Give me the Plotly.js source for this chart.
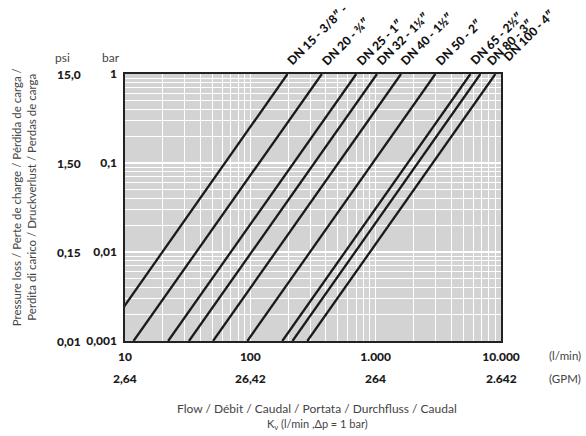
<!DOCTYPE html>
<html>
<head>
<meta charset="utf-8">
<script src="https://cdn.plot.ly/plotly-3.0.1.min.js"></script>
<style>html,body{margin:0;padding:0;background:#fff;}#chart{width:586px;height:436px;}</style>
</head>
<body>
<div id="chart"></div>
<script>
// ---- data ----
const lineNames = ["DN 15 - 3/8″ -", "DN 20 - ¾″", "DN 25 - 1″", "DN 32 - 1¼″", "DN 40 - 1½″", "DN 50 - 2″", "DN 65 - 2½″", "DN 80 - 3″", "DN 100 - 4″"];
// flow (l/min) where each line meets 1 bar (top of chart)
const flowAt1bar = [198, 372, 700, 1024, 1593, 2993, 5700, 6850, 9020];
// flow (l/min) where each line meets 0.001 bar (bottom of chart)
const flowAt0001bar = [6.3, 11.7, 22.1, 32.4, 50.4, 94.7, 180, 217, 285];
const pressureEnds = [0.001, 1];

const flowTicks = [10, 100, 1000, 10000];
const flowTickText = ["10", "100", "1.000", "10.000"];
const gpmTickText = ["2,64", "26,42", "264", "2.642"];
const barTicks = [0.001, 0.01, 0.1, 1];
const barTickText = ["0,001", "0,01", "0,1", "1"];
const psiTickText = ["0,01", "0,15", "1,50", "15,0"];

// ---- chart ----
const FAM = "Lato, 'Open Sans', sans-serif";
const boldFont = {family: FAM, size: 12, color: "#1a1a1a", weight: 900};
const lightFont = {family: FAM, size: 12, color: "#444", weight: 400};

const traces = lineNames.map((n, i) => ({
  type: "scatter", mode: "lines", name: n,
  x: [flowAt0001bar[i], flowAt1bar[i]],
  y: pressureEnds,
  line: {color: "#1a1a1a", width: 2.3},
  hoverinfo: "skip", showlegend: false
}));

// label placement tweaks (pixels) for the crowded labels at the right
const labelDx = [0, 0, 0, 0, 0, 0, 0, 6, 8];
const labelLift = [0, 0, 0, 0, 0, 0, 0, 0, 4];
const annotations = [];
lineNames.forEach((n, i) => {
  annotations.push({
    text: n, xref: "x", yref: "paper",
    x: Math.log10(flowAt1bar[i]), y: 1,
    xanchor: "left", yanchor: "bottom", textangle: -45,
    xshift: -6 + labelDx[i], yshift: 3 + labelLift[i],
    showarrow: false, font: {family: FAM, size: 12, color: "#111", weight: 900}
  });
});
flowTicks.forEach((v, i) => {
  annotations.push({
    text: gpmTickText[i], xref: "x", yref: "paper",
    x: Math.log10(v), y: -0.139, xanchor: "center", yanchor: "middle",
    showarrow: false, font: boldFont
  });
});
barTicks.forEach((v, i) => {
  annotations.push({
    text: psiTickText[i], xref: "paper", yref: "y",
    x: -0.112, y: Math.log10(v), xanchor: "right", yanchor: "middle",
    showarrow: false, font: boldFont
  });
});
annotations.push(
  {text: "psi", xref: "paper", yref: "paper", x: -0.165, y: 1.06, xanchor: "center", yanchor: "middle", showarrow: false, font: lightFont},
  {text: "bar", xref: "paper", yref: "paper", x: -0.037, y: 1.06, xanchor: "center", yanchor: "middle", showarrow: false, font: lightFont},
  {text: "(l/min)", xref: "paper", yref: "paper", x: 1.218, y: -0.053, xanchor: "right", yanchor: "middle", showarrow: false, font: {family: FAM, size: 11.5, color: "#444"}},
  {text: "(GPM)", xref: "paper", yref: "paper", x: 1.218, y: -0.139, xanchor: "right", yanchor: "middle", showarrow: false, font: {family: FAM, size: 11.5, color: "#444"}},
  {text: "Pressure loss / Perte de charge / Pérdida de carga /<br>Perdita di carico / Druckverlust / Perdas de carga",
   xref: "paper", yref: "paper", x: -0.27, y: 0.54, xanchor: "center", yanchor: "middle", textangle: -90,
   showarrow: false, font: {family: FAM, size: 11.5, color: "#444"}},
  {text: "Flow / Débit / Caudal / Portata / Durchfluss / Caudal", xref: "paper", yref: "paper",
   x: 0.511, y: -0.252, xanchor: "center", yanchor: "middle", showarrow: false, font: {family: FAM, size: 12, color: "#444"}},
  {text: "K<sub>v</sub> (l/min ,Δp = 1 bar)", xref: "paper", yref: "paper",
   x: 0.511, y: -0.312, xanchor: "center", yanchor: "middle", showarrow: false, font: {family: FAM, size: 11, color: "#444"}}
);

const layout = {
  width: 586, height: 436,
  margin: {l: 125, r: 85, t: 74, b: 95, pad: 0},
  paper_bgcolor: "#ffffff", plot_bgcolor: "#d3d3d3",
  showlegend: false,
  xaxis: {
    type: "log", range: [1, 4], tickvals: flowTicks, ticktext: flowTickText,
    showgrid: true, gridcolor: "#ffffff", gridwidth: 1.4,
    minor: {dtick: "D1", showgrid: true, gridcolor: "#ffffff", gridwidth: 1, ticks: ""},
    showline: true, linecolor: "#222", linewidth: 1.6, mirror: true,
    ticks: "", tickfont: boldFont, zeroline: false, ticklabelstandoff: 4
  },
  yaxis: {
    type: "log", range: [-3, 0], tickvals: barTicks, ticktext: barTickText,
    showgrid: true, gridcolor: "#ffffff", gridwidth: 1.4,
    minor: {dtick: "D1", showgrid: true, gridcolor: "#ffffff", gridwidth: 1, ticks: ""},
    showline: true, linecolor: "#222", linewidth: 1.6, mirror: true,
    ticks: "", tickfont: boldFont, zeroline: false, ticklabelstandoff: 4
  },
  annotations: annotations
};

Plotly.newPlot("chart", traces, layout, {displayModeBar: false, staticPlot: true});
</script>
</body>
</html>
